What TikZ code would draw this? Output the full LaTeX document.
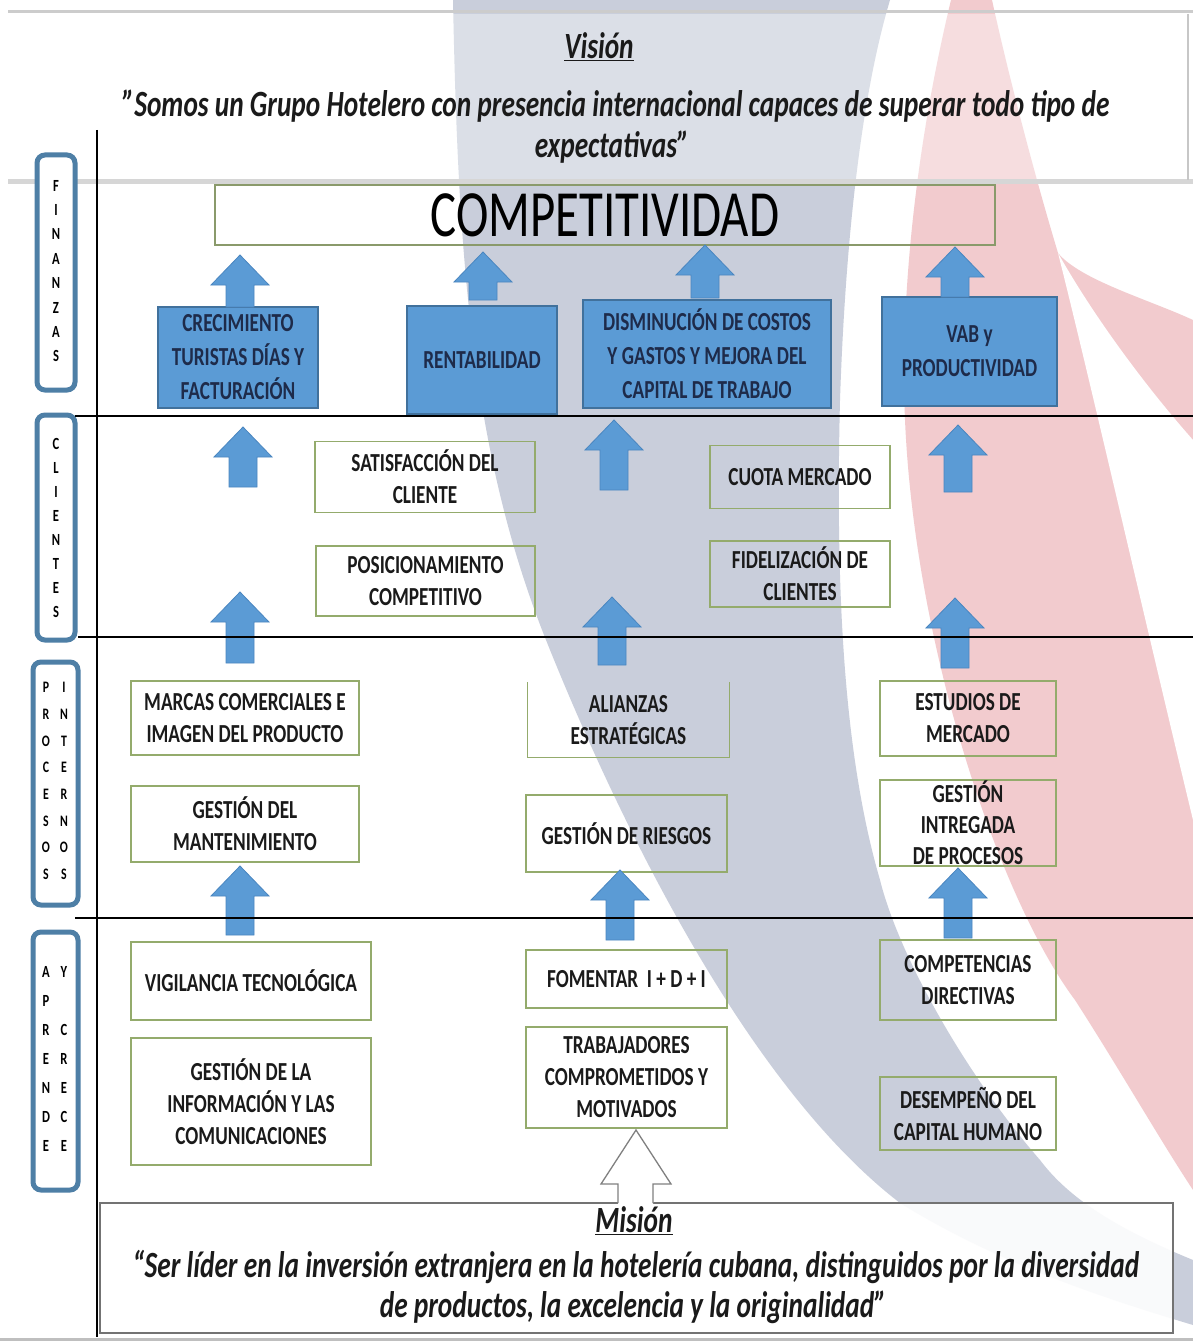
\documentclass[tikz,border=0pt]{standalone}
\usepackage{fontspec}
\setmainfont[FakeStretch=0.74]{Carlito}
\definecolor{bgGrey}{HTML}{C9CEDB}
\definecolor{bgPink}{HTML}{F2CBCE}
\definecolor{finBlue}{HTML}{5B9BD5}
\definecolor{finEdge}{HTML}{41719C}
\definecolor{arrEdge}{HTML}{4A86C0}
\definecolor{boxEdge}{HTML}{94AB6C}
\definecolor{compEdge}{HTML}{8A9A6B}
\definecolor{labEdge}{HTML}{4E7FA6}
\definecolor{navy}{HTML}{1E2B4A}
\definecolor{txt}{HTML}{1A1A1A}
\newcommand\boxfont{\fontsize{26}{32}\selectfont\bfseries}
\newcommand\finfont{\fontsize{26}{34}\selectfont\bfseries}
\newcommand\quotefont{\fontsize{37}{44}\selectfont\bfseries\itshape}
\newcommand\bluearrow[4]{%
  \coordinate (#1) at (#2,#3);
  \filldraw[barrow] (#2,#3) -- (#2+29,#3+30) -- (#2+14,#3+30) -- (#2+14,#4)
    -- (#2-14,#4) -- (#2-14,#3+30) -- (#2-29,#3+30) -- cycle;}
\begin{document}
\begin{tikzpicture}[x=1pt,y=-1pt,
  fin/.style={draw=finEdge, line width=1.5pt, fill=finBlue, align=center, text=navy, font=\finfont, inner sep=0pt},
  gbox/.style={draw=boxEdge, line width=1.4pt, align=center, font=\boxfont, inner sep=0pt, text=txt},
  gedge/.style={draw=boxEdge, line width=1.4pt},
  lab/.style={draw=labEdge, line width=5pt, rounded corners=8pt, fill=white, inner sep=0pt},
  letters/.style={align=center, inner sep=0pt, text=black},
  vtext/.style={font=\quotefont, inner sep=0pt, text=txt},
  barrow/.style={fill=finBlue, draw=arrEdge, line width=0.8pt},
  sep/.style={draw=black, line width=2.2pt}]
\useasboundingbox (0,0) rectangle (1193,1343);
\fill[white] (0,0) rectangle (1193,1343);
% background swooshes
\fill[bgGrey] (453,0) .. controls (458,250) and (470,450) .. (546,640)
  .. controls (610,800) and (740,1080) .. (900,1203)
  .. controls (1000,1265) and (1110,1300) .. (1193,1325) -- (1193,1260)
  .. controls (1120,1230) and (1070,1200) .. (1040,1160)
  .. controls (970,1080) and (900,960) .. (880,880)
  .. controls (845,760) and (835,600) .. (840,400)
  .. controls (845,250) and (860,100) .. (890,0) -- cycle;
\fill[bgPink] (951,0) .. controls (915,150) and (900,300) .. (905,420)
  .. controls (915,650) and (1000,900) .. (1075,1000)
  .. controls (1120,1070) and (1160,1140) .. (1193,1190) -- (1193,320)
  .. controls (1150,300) and (1080,280) .. (1058,253)
  .. controls (1030,160) and (1005,60) .. (992,0) -- cycle;
\fill[white] (1058,253) .. controls (1090,380) and (1140,600) .. (1193,820)
  -- (1193,440) .. controls (1140,380) and (1090,310) .. (1058,253) -- cycle;
% vision box
\fill[white,opacity=0.35] (8,14) rectangle (1193,180);
\draw[black!20, line width=3pt] (8,12) -- (1193,12);
\draw[black!16, line width=5pt] (8,182) -- (1193,182);
\draw[black!22, line width=2pt] (1188,14) -- (1188,180);
\node[vtext] (vtitle) at (599,47) {\underline{Visión}};
\node[vtext] (vl1) at (616,106) {”Somos un Grupo Hotelero con presencia internacional capaces de superar todo tipo de};
\node[vtext] (vl2) at (612,147) {expectativas”};
% competitividad
\node[draw=compEdge, line width=1.5pt, minimum width=780, minimum height=60, inner sep=0pt,
  font=\fontsize{66}{70}\selectfont, text=black] (comp) at (605,215) {COMPETITIVIDAD};
% left labels
\node[lab, minimum width=38, minimum height=235] (labfin) at (56,272.5) {};
\node[lab, minimum width=38, minimum height=225] (labcli) at (56,527.5) {};
\node[lab, minimum width=45, minimum height=243] (labpro) at (55.5,783.5) {};
\node[lab, minimum width=45, minimum height=258] (labapr) at (55.5,1061) {};
\node[letters, font=\fontsize{17}{24.4}\selectfont\bfseries] (lfin) at (56,271) {F\\I\\N\\A\\N\\Z\\A\\S};
\node[letters, font=\fontsize{17}{23.9}\selectfont\bfseries] (lcli) at (56,528) {C\\L\\I\\E\\N\\T\\E\\S};
\node[letters, font=\fontsize{16}{26.7}\selectfont\bfseries] (lpro1) at (46,781) {P\\R\\O\\C\\E\\S\\O\\S};
\node[letters, font=\fontsize{16}{26.7}\selectfont\bfseries] (lpro2) at (64,781) {I\\N\\T\\E\\R\\N\\O\\S};
\node[letters, font=\fontsize{17}{29}\selectfont\bfseries] (lapr1) at (46,1059) {A\\P\\R\\E\\N\\D\\E};
\node[letters, font=\fontsize{17}{29}\selectfont\bfseries] (lapr2) at (64,1059) {Y\\\strut\\C\\R\\E\\C\\E};
% finance boxes
\node[fin, minimum width=160, minimum height=101] (crec) at (238,357.5) {CRECIMIENTO\\TURISTAS DÍAS Y\\FACTURACIÓN};
\node[fin, minimum width=150, minimum height=108] (rent) at (482,360) {RENTABILIDAD};
\node[fin, minimum width=248, minimum height=108] (dism) at (707,354) {DISMINUCIÓN DE COSTOS\\Y GASTOS Y MEJORA DEL\\CAPITAL DE TRABAJO};
\node[fin, minimum width=175, minimum height=109] (vab) at (969.5,351.5) {VAB y\\PRODUCTIVIDAD};
% clientes
\node[gbox, minimum width=220, minimum height=71] (satis) at (425,477) {SATISFACCIÓN DEL\\CLIENTE};
\node[gbox, minimum width=180, minimum height=63] (cuota) at (800,477) {CUOTA MERCADO};
\node[gbox, minimum width=219, minimum height=70] (posic) at (425.5,581) {POSICIONAMIENTO\\COMPETITIVO};
\node[gbox, minimum width=180, minimum height=66] (fidel) at (800,574) {FIDELIZACIÓN DE\\CLIENTES};
% procesos
\node[gbox, minimum width=228, minimum height=74] (marcas) at (245,718) {MARCAS COMERCIALES E\\IMAGEN DEL PRODUCTO};
\node[gbox, draw=none, minimum width=201, minimum height=74] (alian) at (628.5,720) {ALIANZAS\\ESTRATÉGICAS};
\draw[gedge] (alian.north west) -- (alian.south west) -- (alian.south east) -- (alian.north east);
\node[gbox, minimum width=176, minimum height=75] (estud) at (968,718.5) {ESTUDIOS DE\\MERCADO};
\node[gbox, minimum width=228, minimum height=76] (mant) at (245,824) {GESTIÓN DEL\\MANTENIMIENTO};
\node[gbox, minimum width=201, minimum height=77] (riesg) at (626.5,833.5) {GESTIÓN DE RIESGOS};
\node[gbox, minimum width=176, minimum height=86, font=\fontsize{26}{31}\selectfont\bfseries] (gip) at (968,823) {GESTIÓN\\INTREGADA\\DE PROCESOS};
% aprendizaje
\node[gbox, minimum width=240, minimum height=78] (vigil) at (251,981) {VIGILANCIA TECNOLÓGICA};
\node[gbox, minimum width=201, minimum height=58] (foment) at (626.5,979) {FOMENTAR\ \ I + D + I};
\node[gbox, minimum width=176, minimum height=80] (compet) at (968,980) {COMPETENCIAS\\DIRECTIVAS};
\node[gbox, minimum width=240, minimum height=127] (ginfo) at (251,1101.5) {GESTIÓN DE LA\\INFORMACIÓN Y LAS\\COMUNICACIONES};
\node[gbox, minimum width=201, minimum height=101] (trab) at (626.5,1077.5) {TRABAJADORES\\COMPROMETIDOS Y\\MOTIVADOS};
\node[gbox, minimum width=176, minimum height=73] (desem) at (968,1113.5) {DESEMPEÑO DEL\\CAPITAL HUMANO};
% blue block arrows
\bluearrow{a1}{240}{255}{307}
\bluearrow{a2}{483}{252}{300}
\bluearrow{a3}{705}{245}{298}
\bluearrow{a4}{955}{247}{297}
\bluearrow{a5}{243}{427}{487}
\bluearrow{a6}{614}{420}{490}
\bluearrow{a7}{958}{425}{492}
\bluearrow{a8}{240}{592}{663}
\bluearrow{a9}{612}{597}{665}
\bluearrow{a10}{955}{598}{668}
\bluearrow{a11}{240}{866}{935}
\bluearrow{a12}{620}{870}{940}
\bluearrow{a13}{958}{868}{938}
% frame lines
\draw[sep] (75,416) -- (1193,416);
\draw[sep] (78,637) -- (1193,637);
\draw[sep] (75,918) -- (1193,918);
\draw[black, line width=1.8pt] (97,130) -- (97,1337);
% mission box
\node[draw=black!55, line width=1.6pt, fill=white, fill opacity=0.9, minimum width=1073, minimum height=130, inner sep=0pt] (mision) at (636.5,1268) {};
\node[vtext] (mtitle) at (634,1221) {\underline{Misión}};
\node[vtext] (ml1) at (636,1267) {“Ser líder en la inversión extranjera en la hotelería cubana, distinguidos por la diversidad};
\node[vtext] (ml2) at (633,1307) {de productos, la excelencia y la originalidad”};
% outline arrow from mission to trabajadores
\fill[white] (636,1130) -- (671,1184) -- (653,1184) -- (653,1205) -- (618,1205) -- (618,1184) -- (601,1184) -- cycle;
\draw[black!50, line width=1.3pt, line join=miter] (618,1203) -- (618,1184) -- (601,1184) -- (636,1130) -- (671,1184) -- (653,1184) -- (653,1203);
\coordinate (mtip) at (636,1130);
% bottom strip
\draw[black!25, line width=3pt] (0,1339) -- (1193,1339);
\end{tikzpicture}
\end{document}
